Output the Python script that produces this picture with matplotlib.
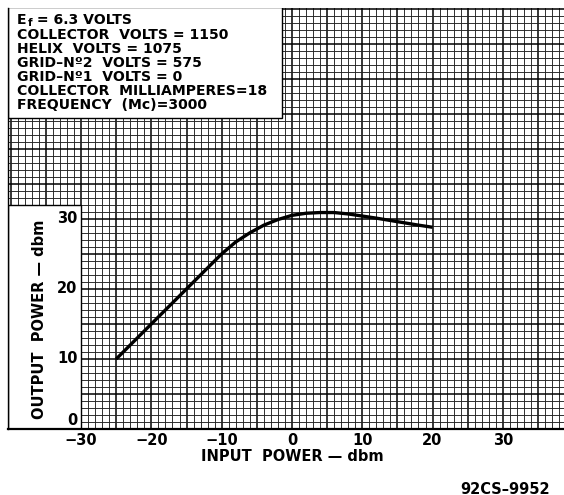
import matplotlib.pyplot as plt
from matplotlib.patches import Rectangle
import numpy as np

# curve
input_dbm = [-25, -20, -15, -10, -8, -6, -4, -2, 0, 2, 4, 6, 8, 10, 12, 15, 18, 20]
output_dbm = [10.0, 15.0, 20.0, 25.0, 26.7, 28.0, 29.1, 29.9, 30.5, 30.8, 30.9, 30.9,
              30.7, 30.4, 30.1, 29.6, 29.1, 28.8]

x_ticks = [-30, -20, -10, 0, 10, 20, 30]
y_ticks = [0, 10, 20, 30]

notes = ["COLLECTOR  VOLTS = 1150",
         "HELIX  VOLTS = 1075",
         "GRID\u2013N\u00ba2  VOLTS = 575",
         "GRID\u2013N\u00ba1  VOLTS = 0",
         "COLLECTOR  MILLIAMPERES=18",
         "FREQUENCY  (Mc)=3000"]

W, H = 564, 495
fig = plt.figure(figsize=(W / 100, H / 100), dpi=100)
ax = fig.add_axes([8 / W, (H - 429) / H, (W - 8) / W, (429 - 8) / H])
ax.set_xlim(-40.4, 38.7)
ax.set_ylim(0, 60.1)

# graph paper
ax.set_xticks(np.arange(-40, 39, 5))
ax.set_xticks(np.arange(-40, 39, 1), minor=True)
ax.set_yticks(np.arange(0, 61, 5))
ax.set_yticks(np.arange(0, 61, 1), minor=True)
ax.grid(which='minor', color='#222222', lw=0.65)
ax.grid(which='major', color='black', lw=1.1)
ax.set_axisbelow(True)
ax.tick_params(which='both', length=0, labelbottom=False, labelleft=False)
for s in ['top', 'right']:
    ax.spines[s].set_visible(False)
ax.spines['left'].set_linewidth(1.0)
ax.spines['bottom'].set_linewidth(1.6)

# white boxes for the notes and the y label
ax.add_patch(Rectangle((-40.4, 44.4), 39.0, 15.8, facecolor='white', edgecolor='black',
                       lw=1.0, zorder=2))
ax.add_patch(Rectangle((-40.4, 0), 10.4, 32.0, facecolor='white', edgecolor='black',
                       lw=1.0, zorder=2))

ax.plot(input_dbm, output_dbm, color='black', lw=2.4, solid_capstyle='butt', zorder=4)

font = dict(family='DejaVu Sans', weight='bold', color='black')

# first note line, E with a subscript f
ef = ax.text(0.016, 0.988, "E", transform=ax.transAxes, fontsize=10.1, va='top',
             ha='left', zorder=5, **font)
sub = ax.annotate("f", xy=(1, 0), xycoords=ef, xytext=(1, -0.8), textcoords='offset points',
                  va='bottom', ha='left', fontsize=7.5, zorder=5, **font)
ax.annotate(" = 6.3 VOLTS", xy=(1, 0), xycoords=(sub, ef), xytext=(0, 0),
            textcoords='offset points', va='bottom', ha='left', fontsize=10.1, zorder=5, **font)

for i, line in enumerate(notes):
    ax.text(0.016, 0.985 - (i + 1) * 0.0333, line, transform=ax.transAxes, fontsize=10.1,
            va='top', ha='left', zorder=5, linespacing=1.0, **font)

for v in y_ticks:
    ax.text(-30.5, v + (0.1 if v == 0 else 0), str(v), ha='right',
            va='bottom' if v == 0 else 'center', fontsize=10.5, zorder=5, **font)
for v in x_ticks:
    ax.text(v, -0.6, str(v).replace('-', '\u2212'), ha='center', va='top', fontsize=10.5,
            clip_on=False, **font)

ax.text(0, -3.9, "INPUT  POWER \u2014 dbm", ha='center', va='center', fontsize=10.5,
        clip_on=False, **font)
ax.text(-35.9, 15.7, "OUTPUT  POWER \u2014 dbm", ha='center', va='center', rotation=90,
        fontsize=10.5, zorder=5, **font)
fig.text(550 / W, 1 - 489 / H, "92CS\u20139952", ha='right', va='center', fontsize=10.5, **font)

fig.savefig('out.png', dpi=100)
